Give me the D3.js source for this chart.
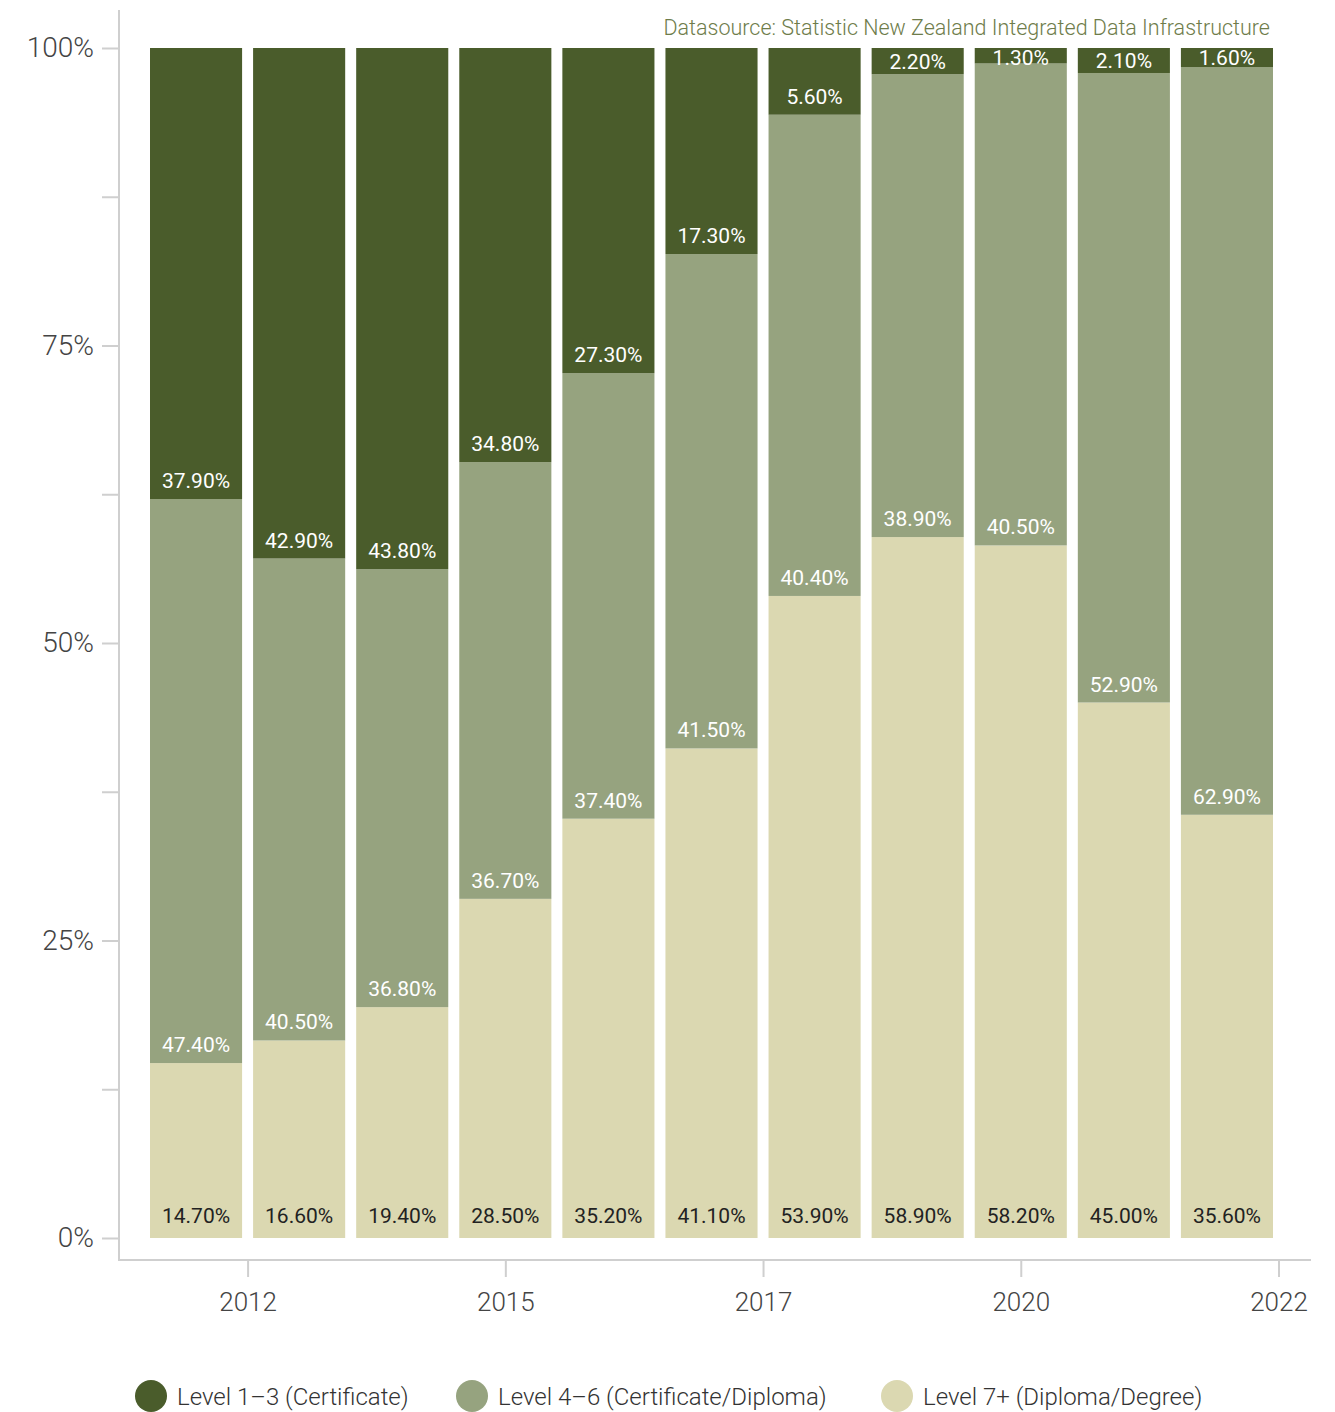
<!DOCTYPE html>
<html>
<head>
<meta charset="utf-8">
<script src="https://cdn.jsdelivr.net/npm/d3@7"></script>
<style>
  body { margin: 0; background: #fff; }
  text { font-family: Roboto, "Noto Sans", sans-serif; }
</style>
</head>
<body>
<div id="chart"></div>
<script>
// data: one bar per year, shares of each qualification level
var years = [2011, 2012, 2013, 2014, 2015, 2016, 2017, 2018, 2019, 2020, 2021];
var level13 = [37.9, 42.9, 43.8, 34.8, 27.3, 17.3, 5.6, 2.2, 1.3, 2.1, 1.6];
var level46 = [47.4, 40.5, 36.8, 36.7, 37.4, 41.5, 40.4, 38.9, 40.5, 52.9, 62.9];
var level7 = [14.7, 16.6, 19.4, 28.5, 35.2, 41.1, 53.9, 58.9, 58.2, 45.0, 35.6];
var seriesNames = ["Level 1\u20133 (Certificate)", "Level 4\u20136 (Certificate/Diploma)", "Level 7+ (Diploma/Degree)"];
var colors = ["#4a5c2b", "#96a37f", "#dbd8b1"];
var xTickValues = [2012, 2014.5, 2017, 2019.5, 2022];
var yTickValues = [0, 0.125, 0.25, 0.375, 0.5, 0.625, 0.75, 0.875, 1];

var width = 1335, height = 1412;

var rows = years.map(function (y, i) {
    return { year: y, l7: level7[i], l46: level46[i], l13: level13[i] };
});
var keys = ["l7", "l46", "l13"];   // bottom to top
var keyIndex = { l13: 0, l46: 1, l7: 2 };

var stacked = d3.stack().keys(keys).offset(d3.stackOffsetExpand)(rows);

var svg = d3.select("#chart").append("svg")
    .attr("width", width)
    .attr("height", height);

var xScale = d3.scaleLinear().domain([2011, 2022]).range([144.5, 1278.5]);
var yScale = d3.scaleLinear().domain([0, 1]).range([1238, 48]);

// axis lines
svg.append("line")
    .attr("x1", 119).attr("x2", 119).attr("y1", 10).attr("y2", 1261)
    .attr("stroke", "#cfcfcf").attr("stroke-width", 2);
svg.append("line")
    .attr("x1", 118).attr("x2", 1311).attr("y1", 1260).attr("y2", 1260)
    .attr("stroke", "#cfcfcf").attr("stroke-width", 2);

var yAxis = d3.axisLeft(yScale)
    .tickValues(yTickValues)
    .tickSize(17)
    .tickPadding(8)
    .tickFormat(function (d) { return (d * 4) % 1 === 0 ? d3.format(".0%")(d) : ""; });

var gy = svg.append("g")
    .attr("transform", "translate(119,0)")
    .call(yAxis);
gy.select(".domain").remove();
gy.selectAll("line").attr("stroke", "#cfcfcf").attr("stroke-width", 2);
gy.selectAll("text")
    .style("font-size", "28px").style("font-weight", 300).attr("fill", "#444");

var xAxis = d3.axisBottom(xScale)
    .tickValues(xTickValues)
    .tickSize(17)
    .tickPadding(16)
    .tickFormat(function (d) { return Math.round(d); });

var gx = svg.append("g")
    .attr("transform", "translate(0,1260)")
    .call(xAxis);
gx.select(".domain").remove();
gx.selectAll("line").attr("stroke", "#cfcfcf").attr("stroke-width", 2);
gx.selectAll("text")
    .style("font-size", "26px").style("font-weight", 300).attr("fill", "#444");

// bars
var groups = svg.selectAll("g.layer")
    .data(stacked)
    .enter().append("g")
    .attr("class", "layer")
    .attr("fill", function (d) { return colors[keyIndex[d.key]]; });

groups.selectAll("rect")
    .data(function (d) { return d; })
    .enter().append("rect")
    .attr("x", function (d) { return xScale(d.data.year) + 5.5; })
    .attr("width", function (d) { return xScale(d.data.year + 1) - xScale(d.data.year) - 11; })
    .attr("y", function (d) { return yScale(d[1]); })
    .attr("height", function (d) { return yScale(d[0]) - yScale(d[1]); });

// value labels near the base of each segment
groups.selectAll("text")
    .data(function (layer) { return layer.map(function (d) { return { d: d, key: layer.key }; }); })
    .enter().append("text")
    .attr("x", function (o) { return xScale(o.d.data.year + 0.5); })
    .attr("y", function (o) {
        var base = yScale(o.d[0]);
        if (o.key === "l7") return base - 15;
        var h = base - yScale(o.d[1]);
        return Math.max(yScale(1) + 17, base - Math.min(11, h * 0.18));
    })
    .attr("text-anchor", "middle")
    .style("font-size", "21px")
    .attr("fill", function (o) { return o.key === "l7" ? "#222" : "#fff"; })
    .text(function (o) { return d3.format(".2f")(o.d.data[o.key]) + "%"; });

// source note
svg.append("text")
    .attr("x", 1270).attr("y", 35)
    .attr("text-anchor", "end")
    .style("font-size", "21.5px")
    .style("font-weight", 300)
    .attr("fill", "#6e7c4a")
    .text("Datasource: Statistic New Zealand Integrated Data Infrastructure");

// legend
var legendX = [151, 472, 897];
var legend = svg.selectAll("g.legend")
    .data(seriesNames)
    .enter().append("g")
    .attr("class", "legend")
    .attr("transform", function (d, i) { return "translate(" + legendX[i] + ",1396)"; });

legend.append("circle")
    .attr("r", 16)
    .attr("fill", function (d, i) { return colors[i]; });

legend.append("text")
    .attr("x", 26)
    .attr("y", 9)
    .style("font-size", "24px")
    .style("font-weight", 300)
    .attr("fill", "#333")
    .text(function (d) { return d; });
</script>
</body>
</html>
